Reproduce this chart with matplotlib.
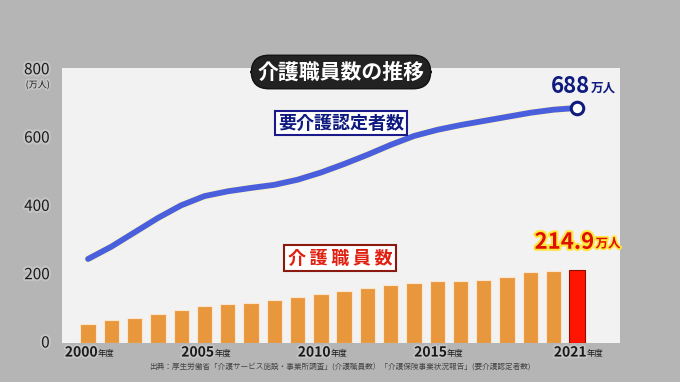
import matplotlib
matplotlib.use("Agg")
import matplotlib.pyplot as plt
import matplotlib.patheffects as pe

plt.rcParams['font.family'] = ['Noto Sans CJK JP', 'DejaVu Sans']

# 年度
years = list(range(2000, 2022))
# 要介護認定者数 (万人)
ninteisha = [246, 282, 324, 366, 403, 430, 444, 454, 463, 478, 499, 524, 551, 580, 606, 624, 638, 650, 662, 674, 683, 688]
# 介護職員数 (万人)
shokuin = [54.9, 66.2, 72.0, 84.9, 97.0, 108.0, 114.0, 117.0, 126.0, 134.3, 142.7, 150.9, 161.0, 170.8, 176.5, 182.0, 182.5, 184.0, 193.0, 208.0, 211.0, 214.9]

ytick_vals = [0, 200, 400, 600, 800]
xlabel_years = [2000, 2005, 2010, 2015, 2021]

W, H = 680, 382
fig = plt.figure(figsize=(W / 100, H / 100), dpi=100)
fig.patch.set_facecolor('#b5b5b5')

# panel: x 62..620, y 68..343 (px)
ax = fig.add_axes([62 / W, (H - 343) / H, (620 - 62) / W, (343 - 68) / H])
ax.set_facecolor('#f2f2f2')
ax.set_xlim(1998.88, 2022.85)
ax.set_ylim(0, 805)
for s in ax.spines.values():
    s.set_visible(False)
ax.set_xticks([])
ax.set_yticks([])

# bars
colors = ['#e9973d'] * (len(years) - 1) + ['#ff1500']
edges = ['#fbe7cf'] * (len(years) - 1) + ['#8a1000']
ax.bar(years, shokuin, width=0.66, color=colors, edgecolor=edges, linewidth=0.8, zorder=2)

# line
ax.plot(years, ninteisha, color='#4a5fdc', lw=4.2, solid_capstyle='round', zorder=3,
        path_effects=[pe.Stroke(linewidth=6.5, foreground='#f7f3dc'), pe.Normal()])
ax.plot(years[-1], ninteisha[-1], 'o', ms=9, mfc='white', mec='#101b80', mew=2.2, zorder=4)

# y tick labels
for v in ytick_vals:
    ax.text(1998.35, v, str(v), ha='right', va='center', fontsize=11, color='#1a1a1a',
            clip_on=False, path_effects=[pe.withStroke(linewidth=3, foreground='#c4c4c4')])
ax.text(1998.35, 755, '(万人)', ha='right', va='center', fontsize=6.5, color='#1a1a1a', clip_on=False,
        path_effects=[pe.withStroke(linewidth=2.5, foreground='#c4c4c4')])

# x labels
for y in xlabel_years:
    ax.text(y + 0.42, -28, str(y), ha='right', va='center', fontsize=10, color='#1a1a1a', clip_on=False,
            fontweight='bold', path_effects=[pe.withStroke(linewidth=2.5, foreground='#c4c4c4')])
    ax.text(y + 0.42, -30, '年度', ha='left', va='center', fontsize=6, color='#1a1a1a', clip_on=False)

# annotations
ax.text(years[-1] + 0.55, ninteisha[-1] + 63, str(ninteisha[-1]), ha='right', va='center',
        fontsize=16, fontweight='bold', color='#0f1a80', clip_on=False)
ax.text(years[-1] + 0.6, ninteisha[-1] + 58, '万人', ha='left', va='center',
        fontsize=9, fontweight='bold', color='#0f1a80', clip_on=False)

ax.text(years[-1] + 0.75, shokuin[-1] + 80, str(shokuin[-1]), ha='right', va='center',
        fontsize=16, fontweight='bold', color='#e01000',
        path_effects=[pe.withStroke(linewidth=3, foreground='#ffe640')])
ax.text(years[-1] + 0.8, shokuin[-1] + 75, '万人', ha='left', va='center',
        fontsize=9, fontweight='bold', color='#e01000',
        path_effects=[pe.withStroke(linewidth=2.5, foreground='#ffe640')])

# series labels
fig.text(341 / W, 1 - 123 / H, '要介護認定者数', ha='center', va='center', fontsize=13,
         fontweight='bold', color='#0f1a80',
         bbox=dict(boxstyle='square,pad=0.15', fc='white', ec='#1a1a8a', lw=1.5))
fig.text(340 / W, 1 - 258 / H, '介\u2009護\u2009職\u2009員\u2009数', ha='center', va='center', fontsize=13,
         fontweight='bold', color='#e02010', family=['Noto Sans CJK JP', 'DejaVu Sans'],
         bbox=dict(boxstyle='square,pad=0.2', fc='white', ec='#8a1a10', lw=1.5))

# title
fig.text(341 / W, 1 - 72 / H, '介護職員数の推移', ha='center', va='center', fontsize=15,
         fontweight='bold', color='white',
         bbox=dict(boxstyle='round,pad=0.3,rounding_size=0.85', fc='#222222', ec='#111111', lw=1))

# source
fig.text(340 / W, 1 - 367 / H,
         '出典：厚生労働省「介護サービス施設・事業所調査」(介護職員数）「介護保険事業状況報告」(要介護認定者数)',
         ha='center', va='center', fontsize=5.5, color='#444444')

fig.savefig('out.png', dpi=100, facecolor=fig.get_facecolor())
